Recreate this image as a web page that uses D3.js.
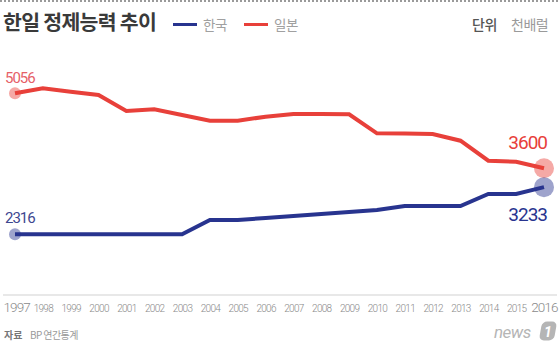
<!DOCTYPE html>
<html><head><meta charset="utf-8">
<script src="https://cdn.jsdelivr.net/npm/d3@7"></script>
<style>
html,body{margin:0;padding:0;background:#fff;}
svg{display:block;}
</style></head>
<body>
<svg id="c" width="560" height="342"></svg>
<script>
const years = [1997,1998,1999,2000,2001,2002,2003,2004,2005,2006,2007,2008,2009,2010,2011,2012,2013,2014,2015,2016];
const korea = [2316,2316,2316,2316,2316,2316,2316,2594,2594,2633,2672,2711,2750,2789,2866,2866,2866,3099,3099,3233];
const japan = [5056,5153,5087,5023,4712,4745,4634,4524,4524,4601,4654,4654,4648,4279,4277,4265,4135,3746,3727,3600];
const title = "한일 정제능력 추이";
const legendLabels = ["한국","일본"];
const unitLabel = ["단위","천배럴"];
const sourceLabel = ["자료","BP 연간통계"];

const KR = "#28348f", JP = "#e8403a";
const svg = d3.select("#c");
const cjk = "'Noto Sans CJK KR','Noto Sans',sans-serif";
const num = "Roboto,'Liberation Sans',sans-serif";

const x = d3.scalePoint().domain(years).range([15,544]);
const y = d3.scaleLinear().domain([0,6000]).range([353.5,353.5-6000*0.05146]);

// top dotted line
svg.append("line").attr("x1",0).attr("x2",560).attr("y1",1).attr("y2",1)
  .attr("stroke","#9a9a9a").attr("stroke-width",2).attr("stroke-dasharray","2,2");

// title
svg.append("text").attr("x",3).attr("y",30).text(title)
  .attr("font-family",cjk).attr("font-weight",700).attr("font-size",20.5)
  .attr("letter-spacing",-0.7).attr("fill","#3a3a3a");

// legend
const lg = [{c:KR,x:173,t:legendLabels[0]},{c:JP,x:244,t:legendLabels[1]}];
lg.forEach(d=>{
  svg.append("line").attr("x1",d.x).attr("x2",d.x+24).attr("y1",24.5).attr("y2",24.5)
    .attr("stroke",d.c).attr("stroke-width",3);
  svg.append("text").attr("x",d.x+30).attr("y",29.5).text(d.t)
    .attr("font-family",cjk).attr("font-size",13.5).attr("fill","#a0a0a0").attr("letter-spacing",-0.5);
});
svg.append("text").attr("x",472).attr("y",30).text(unitLabel[0])
  .attr("font-family",cjk).attr("font-size",14).attr("font-weight",500).attr("fill","#555").attr("letter-spacing",-0.5);
svg.append("text").attr("x",511).attr("y",30).text(unitLabel[1])
  .attr("font-family",cjk).attr("font-size",14).attr("fill","#9a9a9a").attr("letter-spacing",-0.5);

// axis line
svg.append("line").attr("x1",3).attr("x2",557).attr("y1",295).attr("y2",295)
  .attr("stroke","#e8e8e8").attr("stroke-width",2);

// x axis labels
const xa = svg.append("g").attr("transform","translate(0,312)")
  .call(d3.axisBottom(x).tickSize(0).tickPadding(0));
xa.select(".domain").remove();
xa.selectAll("text").attr("font-family",num).attr("fill","#8a8a8a")
  .attr("font-weight",300)
  .attr("font-size",(d)=> (d===1997||d===2016)?13.5:10)
  .attr("letter-spacing",(d)=> (d===1997||d===2016)?-0.9:-0.7)
  .attr("dy",0).attr("y",0)
  .attr("text-anchor",(d)=> d===1997?"start":(d===2016?"end":"middle"))
  .attr("dx",(d)=> d===1997?-12:(d===2016?13:0));

// lines
const line = d3.line().x((d,i)=>x(years[i])).y(d=>y(d));
svg.append("path").datum(japan).attr("d",line).attr("fill","none")
  .attr("stroke",JP).attr("stroke-width",4).attr("stroke-linejoin","miter");
svg.append("path").datum(korea).attr("d",line).attr("fill","none")
  .attr("stroke",KR).attr("stroke-width",4).attr("stroke-linejoin","miter");

// end markers
const last = years.length-1;
svg.append("circle").attr("cx",x(years[0])).attr("cy",y(japan[0])).attr("r",6)
  .attr("fill",JP).attr("fill-opacity",0.45);
svg.append("circle").attr("cx",x(years[0])).attr("cy",y(korea[0])).attr("r",6)
  .attr("fill",KR).attr("fill-opacity",0.45);
svg.append("circle").attr("cx",x(years[last])).attr("cy",y(japan[last])).attr("r",10)
  .attr("fill",JP).attr("fill-opacity",0.45);
svg.append("circle").attr("cx",x(years[last])).attr("cy",y(korea[last])).attr("r",10)
  .attr("fill",KR).attr("fill-opacity",0.45);

// value labels
function vlab(xx,yy,t,c,fs,anchor){
  svg.append("text").attr("x",xx).attr("y",yy).text(t).attr("font-family",num)
    .attr("font-size",fs).attr("fill",c).attr("text-anchor",anchor).attr("letter-spacing",-1);
}
vlab(5,83,japan[0],"#e66068",15,"start");
vlab(5,223,korea[0],"#3d4790",15,"start");
vlab(547,149,japan[last],JP,19,"end");
vlab(547,221,korea[last],KR,19,"end");

// source
svg.append("text").attr("x",4).attr("y",339).text(sourceLabel[0])
  .attr("font-family",cjk).attr("font-size",10).attr("font-weight",700).attr("fill","#777");
svg.append("text").attr("x",30).attr("y",339).text(sourceLabel[1])
  .attr("font-family",cjk).attr("font-size",10).attr("fill","#9a9a9a").attr("letter-spacing",-0.6);

// logo
svg.append("text").attr("x",494).attr("y",338).text("news")
  .attr("font-family",num).attr("font-style","italic").attr("font-size",17).attr("fill","#b5b5b5").attr("letter-spacing",-0.5);
svg.append("rect").attr("width",15).attr("height",19).attr("rx",5)
  .attr("fill","#b5b5b5").attr("transform","translate(548,331) skewX(-10) translate(-7.5,-9.5)");
svg.append("text").attr("x",548).attr("y",337).text("1").attr("text-anchor","middle")
  .attr("font-family",num).attr("font-weight",700).attr("font-style","italic").attr("font-size",14).attr("fill","#fff");
</script>
</body></html>
